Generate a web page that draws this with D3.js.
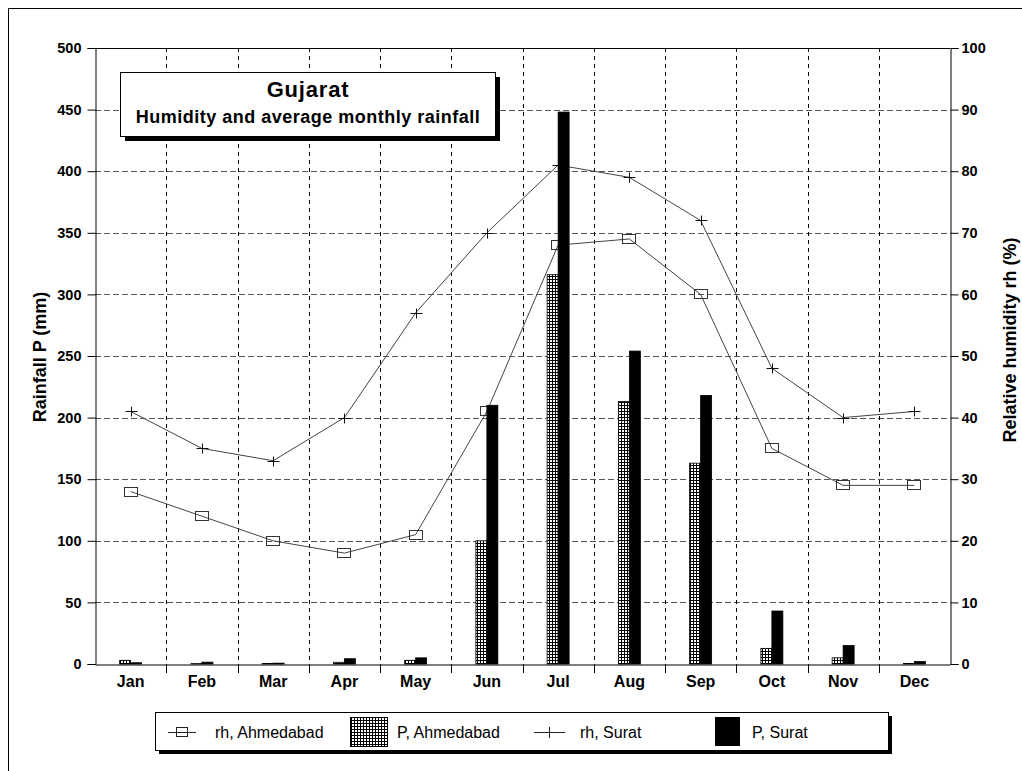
<!DOCTYPE html>
<html><head><meta charset="utf-8">
<script src="https://cdn.jsdelivr.net/npm/d3@7"></script>
<style>
html,body{margin:0;padding:0;background:#fff;}
svg{display:block;font-family:"Liberation Sans",Arial,sans-serif;}
</style></head>
<body><svg id="c" width="1022" height="771"></svg>
<script>
const months = ["Jan","Feb","Mar","Apr","May","Jun","Jul","Aug","Sep","Oct","Nov","Dec"];
const pAhmedabad = [3, 0.3, 0.5, 1.4, 3, 100, 316, 213, 163, 12.7, 5, 0.5];
const pSurat = [1, 1.5, 0.7, 4.3, 5, 210, 448, 254, 218, 43, 15, 2];
const rhAhmedabad = [28, 24, 20, 18, 21, 41, 68, 69, 60, 35, 29, 29];
const rhSurat = [41, 35, 33, 40, 57, 70, 81, 79, 72, 48, 40, 41];
const leftTicks = [0,50,100,150,200,250,300,350,400,450,500];
const rightTicks = [0,10,20,30,40,50,60,70,80,90,100];
const titleLines = ["Gujarat", "Humidity and average monthly rainfall"];
const yLeftTitle = "Rainfall P (mm)";
const yRightTitle = "Relative humidity rh (%)";
const legendItems = ["rh, Ahmedabad","P, Ahmedabad","rh, Surat","P, Surat"];

const FF = "'Liberation Sans', Arial, sans-serif";
const svg = d3.select("#c");
const L = 95, R = 950, T = 48, B = 664;

const x = d3.scaleBand().domain(months).range([L, R]).padding(0);
const x1 = d3.scaleBand().domain(["A","S"]).range([-11, 11]).padding(0);
const yL = d3.scaleLinear().domain([0, 500]).range([B, T]);
const yR = d3.scaleLinear().domain([0, 100]).range([B, T]);

// pattern
const defs = svg.append("defs");
const pat = defs.append("pattern").attr("id","hatch").attr("patternUnits","userSpaceOnUse")
  .attr("width",3).attr("height",3);
pat.append("rect").attr("width",3).attr("height",3).attr("fill","#fff");
pat.append("path").attr("d","M0.5,0V3M0,0.5H3").attr("stroke","#000").attr("stroke-width",1);

// outer frame
svg.append("path").attr("d","M8.5,771V8.5H1022").attr("fill","none").attr("stroke","#000").attr("stroke-width",1);

// grid
const g = svg.append("g");
g.selectAll(".hg").data(leftTicks.filter(d => d>0 && d<500)).join("line")
  .attr("x1", L).attr("x2", R).attr("y1", d => Math.round(yL(d))+0.5).attr("y2", d => Math.round(yL(d))+0.5)
  .attr("stroke","#555").attr("stroke-dasharray","6,3").attr("stroke-width",1);
g.selectAll(".vg").data(months.slice(1)).join("line")
  .attr("x1", d => Math.round(x(d))+0.5).attr("x2", d => Math.round(x(d))+0.5)
  .attr("y1", T).attr("y2", B)
  .attr("stroke","#000").attr("stroke-dasharray","4,4").attr("stroke-width",1);
g.append("line").attr("x1",L).attr("x2",R).attr("y1",T+0.5).attr("y2",T+0.5).attr("stroke","#000");

// lines
const cx = m => x(m) + x.bandwidth()/2;
const line = d3.line().x((d,i) => cx(months[i])).y(d => yR(d));
svg.append("path").datum(rhAhmedabad).attr("d", line).attr("fill","none").attr("stroke","#444").attr("stroke-width",1);
svg.append("path").datum(rhSurat).attr("d", line).attr("fill","none").attr("stroke","#444").attr("stroke-width",1);
svg.selectAll(".sq").data(rhAhmedabad).join("rect")
  .attr("x",(d,i)=> Math.round(cx(months[i])) - 6.5)
  .attr("y", d => Math.round(yR(d)) - 4.5)
  .attr("width",13).attr("height",9).attr("fill","none").attr("stroke","#333").attr("stroke-width",1);
svg.selectAll(".pl").data(rhSurat).join("path")
  .attr("d",(d,i)=>{const px=Math.round(cx(months[i]))+0.5, py=Math.round(yR(d))+0.5;
    return `M${px-6},${py}H${px+6}M${px},${py-5}V${py+5}`;})
  .attr("fill","none").attr("stroke","#111").attr("stroke-width",1);

// bars
svg.selectAll(".ba").data(pAhmedabad).join("rect")
  .attr("x",(d,i)=> cx(months[i]) + x1("A"))
  .attr("y", d => yL(d)).attr("width", x1.bandwidth()).attr("height", d => B - yL(d))
  .attr("fill","url(#hatch)").attr("stroke","#000").attr("stroke-width",0.8);
svg.selectAll(".bs").data(pSurat).join("rect")
  .attr("x",(d,i)=> cx(months[i]) + x1("S"))
  .attr("y", d => yL(d)).attr("width", x1.bandwidth()).attr("height", d => B - yL(d))
  .attr("fill","#000").attr("stroke","#000").attr("stroke-width",0.8);

// axes
const axL = svg.append("g").attr("transform",`translate(${L+0.5},0)`)
  .call(d3.axisLeft(yL).tickValues(leftTicks).tickSize(8).tickPadding(6));
const axR = svg.append("g").attr("transform",`translate(${R+0.5},0)`)
  .call(d3.axisRight(yR).tickValues(rightTicks).tickSize(8).tickPadding(3));
const axB = svg.append("g").attr("transform",`translate(0,${B+0.5})`)
  .call(d3.axisBottom(x).tickSize(0).tickPadding(11));
[axL,axR,axB].forEach(a=>{
  a.attr("font-family", FF).attr("font-size", 14.5).attr("font-weight","bold");
  a.select(".domain").attr("stroke","#000");
  a.selectAll("text").attr("fill","#000");
  a.selectAll("line").attr("stroke","#000");
});
axB.attr("font-size", 16);
svg.selectAll(".bt").data(months.slice(1)).join("line")
  .attr("x1", d => Math.round(x(d))+0.5).attr("x2", d => Math.round(x(d))+0.5)
  .attr("y1", B).attr("y2", B+9).attr("stroke","#000");

// axis titles
svg.append("text").attr("transform",`translate(46,357) rotate(-90)`)
  .attr("text-anchor","middle").attr("font-family",FF).attr("font-size",18).attr("font-weight","bold").text(yLeftTitle);
svg.append("text").attr("transform",`translate(1016,340) rotate(-90)`)
  .attr("text-anchor","middle").attr("font-family",FF).attr("font-size",18).attr("font-weight","bold").text(yRightTitle);

// title box
const tb = svg.append("g");
tb.append("rect").attr("x",125).attr("y",77).attr("width",375).attr("height",64).attr("fill","#000");
tb.append("rect").attr("x",120.5).attr("y",72.5).attr("width",375).attr("height",64).attr("fill","#fff").attr("stroke","#000");
tb.append("text").attr("x",308).attr("y",97).attr("text-anchor","middle").attr("letter-spacing",0.8)
  .attr("font-family",FF).attr("font-size",22).attr("font-weight","bold").text(titleLines[0]);
tb.append("text").attr("x",308).attr("y",123).attr("text-anchor","middle").attr("letter-spacing",0.5)
  .attr("font-family",FF).attr("font-size",18).attr("font-weight","bold").text(titleLines[1]);

// legend
const lg = svg.append("g").attr("font-family",FF).attr("font-size",16);
lg.append("rect").attr("x",159).attr("y",716).attr("width",733).attr("height",38).attr("fill","#000");
lg.append("rect").attr("x",155.5).attr("y",712.5).attr("width",733).attr("height",38).attr("fill","#fff").attr("stroke","#000");
const ly = 732;
lg.append("path").attr("d",`M168,${ly+0.5}H196`).attr("stroke","#222");
lg.append("rect").attr("x",176.5).attr("y",ly-4.5).attr("width",11).attr("height",9).attr("fill","none").attr("stroke","#222");
lg.append("text").attr("x",215).attr("y",ly+6).text(legendItems[0]);
lg.append("rect").attr("x",350.5).attr("y",717.5).attr("width",37).attr("height",29).attr("fill","url(#hatch)").attr("stroke","#000");
lg.append("text").attr("x",397).attr("y",ly+6).text(legendItems[1]);
lg.append("path").attr("d",`M534,${ly+0.5}H565M549.5,${ly-5}V${ly+6}`).attr("stroke","#222");
lg.append("text").attr("x",580).attr("y",ly+6).text(legendItems[2]);
lg.append("rect").attr("x",715).attr("y",717).attr("width",25).attr("height",29).attr("fill","#000");
lg.append("text").attr("x",752).attr("y",ly+6).text(legendItems[3]);
</script></body></html>
